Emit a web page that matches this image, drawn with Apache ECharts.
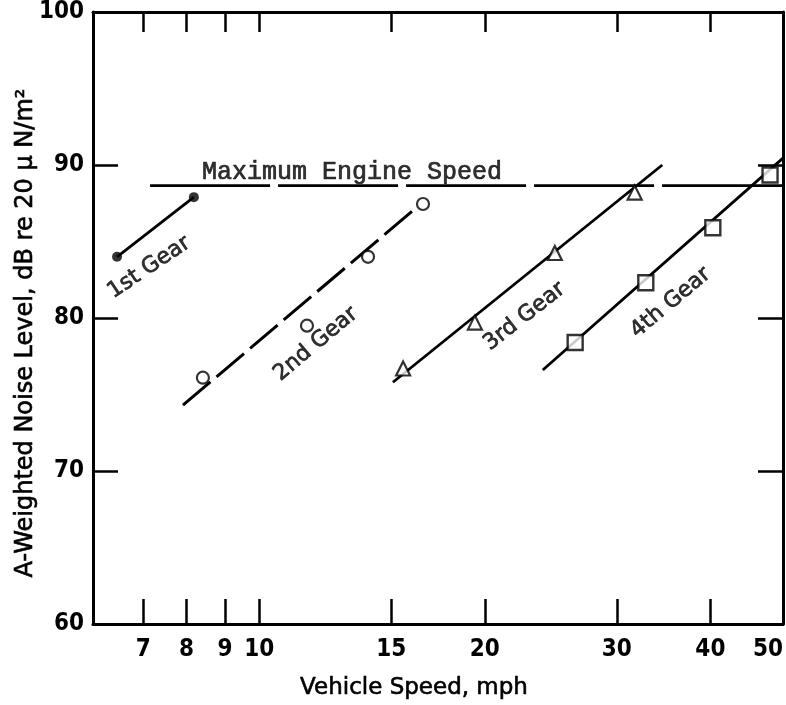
<!DOCTYPE html>
<html><head><meta charset="utf-8">
<script src="https://cdn.jsdelivr.net/npm/echarts@6/dist/echarts.min.js"></script>
<style>html,body{margin:0;padding:0;background:#fff}#c{width:786px;height:705px}</style>
</head><body><div id="c"></div>
<script>
// ---- data ----
const xTickValues = [7, 8, 9, 10, 15, 20, 30, 40, 50];
const xTopTickValues = [7, 8, 9, 10, 15, 20, 30, 40];
const yTickValues = [60, 70, 80, 90, 100];

const gear1Speed = [6.46, 8.18];
const gear1Level = [84.0, 87.9];

const gear2Speed = [8.41, 11.58, 13.97, 16.54];
const gear2Level = [76.1, 79.5, 84.0, 87.45];
const gear2FitSpeed = [7.91, 16.24];
const gear2FitLevel = [74.3, 87.25];

const gear3Speed = [15.56, 19.40, 24.8, 31.7];
const gear3Level = [76.7, 79.7, 84.25, 88.2];
const gear3FitSpeed = [15.08, 34.5];
const gear3FitLevel = [75.8, 90.0];

const gear4Speed = [26.4, 32.8, 40.3, 48.05];
const gear4Level = [78.4, 82.3, 85.9, 89.35];
const gear4FitSpeed = [23.9, 50];
const gear4FitLevel = [76.6, 90.45];

const maxEngineSpeed = [7.15, 50];
const maxEngineLevel = [88.65, 88.65];

const gearLabelText = ['1st Gear', '2nd Gear', '3rd Gear', '4th Gear'];
const gearLabelSpeed = [7.13, 11.9, 22.6, 35.4];
const gearLabelLevel = [83.3, 78.3, 80.1, 81.0];
const gearLabelAngle = [34, 40, 38, 40];
const maxEngineText = 'Maximum Engine Speed';
const maxEngineTextAt = [13.3, 89.5];

const xMin = 6, xMax = 50, yMin = 60, yMax = 100;

// ---- build ----
const zip = (a, b) => a.map((v, i) => [v, b[i]]);
const SANS = "'DejaVu Sans', sans-serif";
const NARROW = "'Liberation Sans Narrow', 'DejaVu Sans Condensed', 'DejaVu Sans', sans-serif";
const lineStyleBase = {color: '#000', width: 2.8};

const chart = echarts.init(document.getElementById('c'), null, {renderer: 'canvas'});
const option = {
  animation: false,
  backgroundColor: '#fff',
  grid: {left: 93, top: 12, right: 3, bottom: 81, containLabel: false},
  xAxis: [{
    type: 'log', logBase: 10, min: xMin, max: xMax, position: 'bottom',
    axisLine: {show: true, lineStyle: {color: '#000', width: 3}},
    axisTick: {show: true, inside: true, length: 25, lineStyle: {color: '#000', width: 2.5}, customValues: xTickValues},
    axisLabel: {show: true, customValues: xTickValues, color: '#000', fontFamily: NARROW, fontWeight: 'bold', fontSize: 24, margin: 14, alignMaxLabel: 'right',
      formatter: v => String(Math.round(v))},
    minorTick: {show: false}, splitLine: {show: false}
  }, {
    type: 'log', logBase: 10, min: xMin, max: xMax, position: 'top',
    axisLine: {show: true, lineStyle: {color: '#000', width: 3}},
    axisTick: {show: true, inside: true, length: 20, lineStyle: {color: '#000', width: 2.5}, customValues: xTopTickValues},
    axisLabel: {show: false}, splitLine: {show: false}
  }],
  yAxis: [{
    type: 'value', min: yMin, max: yMax, interval: 10, position: 'left',
    axisLine: {show: true, lineStyle: {color: '#000', width: 3}},
    axisTick: {show: true, inside: true, length: 25, lineStyle: {color: '#000', width: 2.5}},
    axisLabel: {color: '#000', fontFamily: NARROW, fontWeight: 'bold', fontSize: 24, margin: 9},
    splitLine: {show: false}
  }, {
    type: 'value', min: yMin, max: yMax, interval: 10, position: 'right',
    axisLine: {show: true, lineStyle: {color: '#000', width: 3}},
    axisTick: {show: true, inside: true, length: 25, lineStyle: {color: '#000', width: 2.5}},
    axisLabel: {show: false}, splitLine: {show: false}
  }],
  graphic: [{
    type: 'text', x: 414, y: 688,
    style: {text: 'Vehicle Speed, mph', font: "23px 'DejaVu Sans'", fill: '#000', stroke: '#000', lineWidth: 0.6,
      align: 'center', verticalAlign: 'middle'}
  }, {
    type: 'text', x: 26, y: 333, rotation: Math.PI / 2,
    style: {text: 'A-Weighted Noise Level, dB re 20 \u03bc N/m\u00b2', font: "24px 'DejaVu Sans'", fill: '#000', stroke: '#000', lineWidth: 0.6,
      align: 'center', verticalAlign: 'middle'}
  }],
  series: [
    {type: 'line', name: 'Maximum Engine Speed', data: zip(maxEngineSpeed, maxEngineLevel), symbol: 'none',
      lineStyle: {color: '#000', width: 2.6, type: [120, 8]}, silent: true, z: 2},
    {type: 'line', name: '1st fit', data: zip(gear1Speed, gear1Level), symbol: 'none', lineStyle: lineStyleBase, silent: true, z: 2},
    {type: 'line', name: '2nd fit', data: zip(gear2FitSpeed, gear2FitLevel), symbol: 'none',
      lineStyle: {color: '#000', width: 3, type: [36, 8]}, silent: true, z: 2},
    {type: 'line', name: '3rd fit', data: zip(gear3FitSpeed, gear3FitLevel), symbol: 'none', lineStyle: lineStyleBase, silent: true, z: 2},
    {type: 'line', name: '4th fit', data: zip(gear4FitSpeed, gear4FitLevel), symbol: 'none', lineStyle: lineStyleBase, silent: true, z: 2},
    {type: 'scatter', name: '1st Gear', data: zip(gear1Speed, gear1Level), symbol: 'circle', symbolSize: 10,
      itemStyle: {color: '#000'}, silent: true, z: 3},
    {type: 'scatter', name: '2nd Gear', data: zip(gear2Speed, gear2Level), symbol: 'circle', symbolSize: 12,
      itemStyle: {color: '#fff', borderColor: '#000', borderWidth: 2.2}, silent: true, z: 3},
    {type: 'scatter', name: '3rd Gear', data: zip(gear3Speed, gear3Level), symbol: 'triangle', symbolSize: 14,
      itemStyle: {color: '#fff', borderColor: '#000', borderWidth: 2.2}, silent: true, z: 3},
    {type: 'scatter', name: '4th Gear', data: zip(gear4Speed, gear4Level), symbol: 'rect', symbolSize: 15,
      itemStyle: {color: '#fff', borderColor: '#000', borderWidth: 2.4}, silent: true, z: 3},
    {type: 'scatter', name: 'labels', symbolSize: 0, silent: true, z: 4,
      data: gearLabelText.map((t, i) => ({name: t, value: [gearLabelSpeed[i], gearLabelLevel[i]],
        label: {rotate: gearLabelAngle[i]}})),
      label: {show: true, position: 'inside', formatter: p => p.name, color: '#000', fontFamily: SANS, fontSize: 22,
        textBorderColor: '#000', textBorderWidth: 0.7, align: 'center', verticalAlign: 'middle'}},
    {type: 'scatter', name: 'maxText', symbolSize: 0, silent: true, z: 4,
      data: [{name: maxEngineText, value: maxEngineTextAt}],
      label: {show: true, position: 'inside', formatter: p => p.name, color: '#000',
        textBorderColor: '#000', textBorderWidth: 0.7,
        fontFamily: "'Liberation Mono', monospace", fontSize: 25, align: 'center', verticalAlign: 'middle'}}
  ]
};
chart.setOption(option);
</script></body></html>
